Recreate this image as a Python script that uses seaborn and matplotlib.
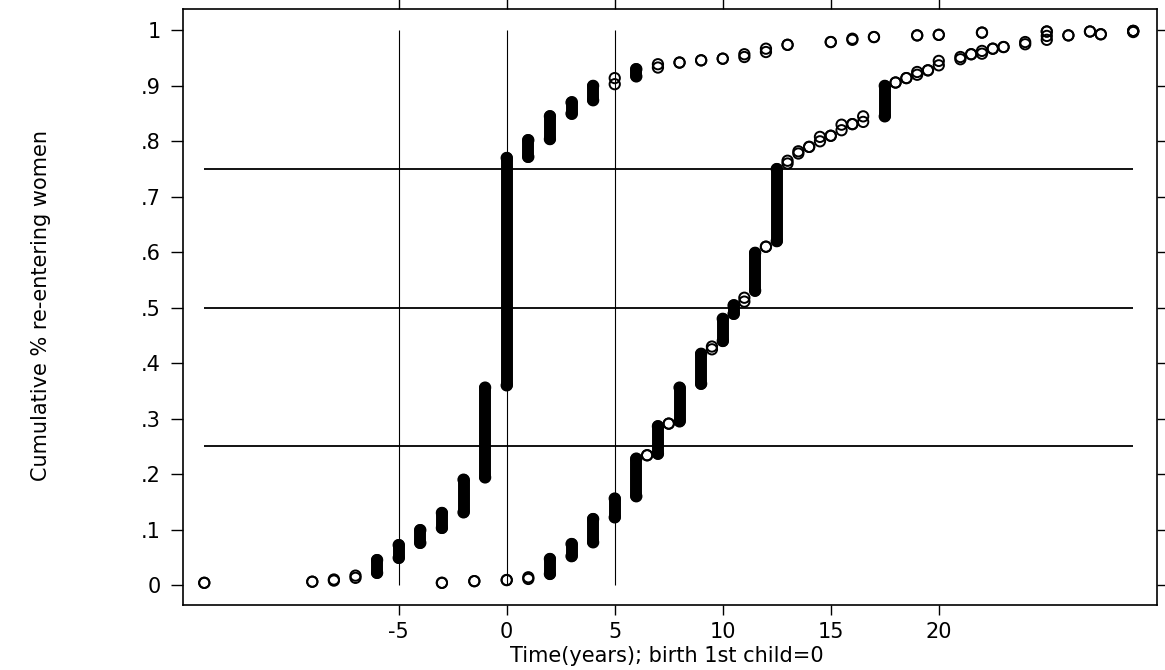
import numpy as np
import pandas as pd
import matplotlib
matplotlib.use("Agg")
import matplotlib.pyplot as plt
import seaborn as sns

# series A: re-entry counted from birth of 1st child (jump at 0)
x_a = [-14, -9, -8, -7, -6, -5, -4, -3, -2, -1, 0, 1, 2, 3, 4, 5, 6, 7, 8, 9,
       10, 11, 12, 13, 15, 16, 17, 19, 20, 22, 25, 27, 29]
lo_a = [0.004, 0.006, 0.008, 0.013, 0.022, 0.049, 0.076, 0.103, 0.131, 0.194,
        0.360, 0.772, 0.804, 0.850, 0.874, 0.903, 0.917, 0.933, 0.942, 0.946,
        0.949, 0.952, 0.961, 0.974, 0.979, 0.983, 0.988, 0.991, 0.992, 0.996,
        0.998, 0.998, 0.999]
hi_a = [0.004, 0.006, 0.010, 0.017, 0.045, 0.072, 0.099, 0.130, 0.190, 0.356,
        0.770, 0.802, 0.845, 0.870, 0.900, 0.914, 0.930, 0.939, 0.942, 0.946,
        0.949, 0.957, 0.967, 0.974, 0.979, 0.985, 0.988, 0.991, 0.992, 0.996,
        0.998, 0.998, 0.999]

# series B: second curve, half-year steps
x_b = [-3, -1.5, 0, 1, 2, 3, 4, 5, 6, 6.5, 7, 7.5, 8, 9, 9.5, 10, 10.5, 11,
       11.5, 12, 12.5, 13, 13.5, 14, 14.5, 15, 15.5, 16, 16.5, 17.5, 18, 18.5,
       19, 19.5, 20, 21, 21.5, 22, 22.5, 23, 24, 25, 26, 27.5, 29]
lo_b = [0.004, 0.007, 0.009, 0.011, 0.020, 0.052, 0.077, 0.122, 0.160, 0.234,
        0.237, 0.291, 0.295, 0.363, 0.425, 0.440, 0.489, 0.511, 0.531, 0.610,
        0.620, 0.760, 0.778, 0.790, 0.800, 0.810, 0.820, 0.831, 0.835, 0.845,
        0.906, 0.914, 0.920, 0.928, 0.937, 0.948, 0.957, 0.958, 0.967, 0.970,
        0.975, 0.983, 0.991, 0.993, 0.997]
hi_b = [0.004, 0.007, 0.009, 0.014, 0.047, 0.074, 0.119, 0.156, 0.228, 0.234,
        0.286, 0.291, 0.356, 0.417, 0.430, 0.480, 0.504, 0.518, 0.599, 0.610,
        0.750, 0.765, 0.782, 0.790, 0.808, 0.810, 0.830, 0.831, 0.845, 0.900,
        0.906, 0.914, 0.925, 0.928, 0.945, 0.952, 0.957, 0.963, 0.967, 0.970,
        0.979, 0.990, 0.991, 0.993, 0.999]

x_ticks = [-5, 0, 5, 10, 15, 20]
y_ticks = [0, .1, .2, .3, .4, .5, .6, .7, .8, .9, 1]
y_tick_labels = ["0", ".1", ".2", ".3", ".4", ".5", ".6", ".7", ".8", ".9", "1"]
x_refs = [-5, 0, 5]
y_refs = [0.25, 0.5, 0.75]

sns.set_theme(style="ticks")
plt.rcParams['font.family'] = ['DejaVu Sans']

fig = plt.figure(figsize=(11.65, 6.7), dpi=100)
ax = fig.add_axes([0.1568, 0.097, 0.9931 - 0.1568, 0.9861 - 0.097])

# reference lines
x_all = x_a + x_b
ax.hlines(y_refs, min(x_all), max(x_all), color='black', lw=1.3, zorder=1)
ax.vlines(x_refs, 0, 1, color='black', lw=0.8, zorder=1)

# stacked observations -> solid columns of circles
for xs, lo, hi in [(x_a, lo_a, hi_a), (x_b, lo_b, hi_b)]:
    xs = np.array(xs)
    lo = np.array(lo)
    hi = np.array(hi)
    tall = (hi - lo) > 0.012
    ax.vlines(xs[tall], lo[tall], hi[tall], color='black', lw=8.6,
              capstyle='round', zorder=2)

pts = pd.DataFrame({
    'x': x_a + x_a + x_b + x_b,
    'y': lo_a + hi_a + lo_b + hi_b,
})
sns.scatterplot(data=pts, x='x', y='y', ax=ax, marker='o', s=55,
                facecolors='none', edgecolors='black', linewidth=1.4,
                zorder=3, legend=False)

ax.set_xlim(-15.0, 30.1)
ax.set_ylim(-0.036, 1.038)
ax.set_xticks(x_ticks)
ax.set_xticklabels([str(t) for t in x_ticks])
ax.set_yticks(y_ticks)
ax.set_yticklabels(y_tick_labels)
ax.tick_params(axis='both', direction='out', colors='black', labelsize=15,
               width=1.0, top=True, right=True, labeltop=False, labelright=False)
ax.tick_params(axis='y', length=9, pad=7)
ax.tick_params(axis='x', length=7, pad=5)
for s in ax.spines.values():
    s.set_color('black')
    s.set_linewidth(1.2)

ax.set_xlabel('Time(years); birth 1st child=0', fontsize=15, color='black')
ax.set_ylabel('Cumulative % re-entering women', fontsize=15, color='black')
ax.xaxis.set_label_coords(0.497, -0.068)
ax.yaxis.set_label_coords(-0.135, 0.503)

fig.savefig('out.png', dpi=100)
